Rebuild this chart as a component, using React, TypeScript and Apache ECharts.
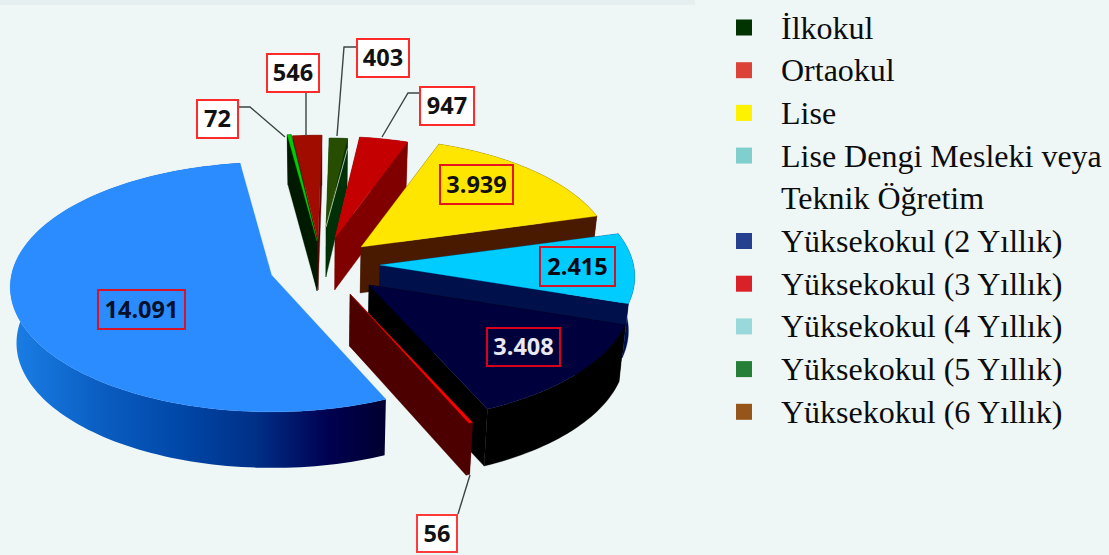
import React, { useEffect, useRef } from "react";
import * as echarts from "echarts";

// ---- data (clockwise from the top of the pie) ----
const categories = ["İlkokul", "Ortaokul", "Lise", "Lise Dengi Mesleki veya Teknik Öğretim", "Yüksekokul (2 Yıllık)", "Yüksekokul (3 Yıllık)", "Yüksekokul (4 Yıllık)", "Yüksekokul (5 Yıllık)", "Yüksekokul (6 Yıllık)"];
const values = [403, 947, 3939, 2415, 3408, 56, 14091, 72, 546];
const legendRows = [["İlkokul"], ["Ortaokul"], ["Lise"], ["Lise Dengi Mesleki veya", "Teknik Öğretim"], ["Yüksekokul (2 Yıllık)"], ["Yüksekokul (3 Yıllık)"], ["Yüksekokul (4 Yıllık)"], ["Yüksekokul (5 Yıllık)"], ["Yüksekokul (6 Yıllık)"]];
const legendColors = ["#003300", "#dc4238", "#fff200", "#80cfcf", "#24408f", "#da2128", "#9ad9db", "#267f36", "#96561a"];

// ---- styling of the slices ----
const topColors = ["#274d00", "#c40000", "#ffe600", "#00ccff", "#00003c", "#ff0000", "#2b8cff", "#00cc00", "#a00c00"];
const wallColors = ["#012f07", "#800000", "#4a1a00", "#00104a", "#000000", "#4d0000", "#000030", "#001a00", "#5a0800"];
// exploded placement of each slice: apex shift, perspective scale, thickness
const explode = [
  { ax: 326, ay: 227, s: 0.79, d: 50 },
  { ax: 335, ay: 238, s: 0.9, d: 52 },
  { ax: 361, ay: 247, s: 0.965, d: 46 },
  { ax: 380, ay: 265, s: 0.975, d: 54 },
  { ax: 369, ay: 285, s: 1.005, d: 57 },
  { ax: 350, ay: 294, s: 1.04, d: 52 },
  { ax: 271.5, ay: 275, s: 1, d: 56 },
  { ax: 317, ay: 241, s: 0.95, d: 50 },
  { ax: 318, ay: 240, s: 0.93, d: 50 },
];
const drawOrder = [8, 7, 0, 1, 2, 3, 4, 5, 6];
const START_ANGLE = 1;
const RX = 260, RY = 123.6, P = 0.097, VX = 322, K = 0.98;

// ---- value labels: box [x, y, w, h] and leader points ----
const labelBoxes = [
  [356, 38, 54, 40], [419, 86, 56, 40], [439, 164, 75, 41], [539, 246, 77, 41], [486, 327, 75, 40],
  [416, 514, 42, 39], [97, 289, 89, 41], [196, 99, 43, 40], [266, 53, 54, 40],
];
const leaders: (number[][] | null)[] = [
  [[356, 47], [344, 47], [337, 136]],
  [[419, 93], [408, 93], [382, 137]],
  null, null, null,
  [[458, 514], [470, 475]],
  null,
  [[239, 107], [250, 107], [285, 137]],
  [[306, 93], [306, 136]],
];
const labelStyle = [
  { fill: "#ffffff", stroke: "#ff2a2a", color: "#111111" },
  { fill: "#ffffff", stroke: "#ff2a2a", color: "#111111" },
  { fill: "transparent", stroke: "#e8141c", color: "#111111" },
  { fill: "transparent", stroke: "#d01428", color: "#0a0a14" },
  { fill: "transparent", stroke: "#d8001c", color: "#e8e8f0" },
  { fill: "#ffffff", stroke: "#ff3a3a", color: "#111111" },
  { fill: "transparent", stroke: "#d8142c", color: "#06102a" },
  { fill: "#ffffff", stroke: "#ff2a2a", color: "#111111" },
  { fill: "#ffffff", stroke: "#ff2a2a", color: "#111111" },
];

const total = values.reduce((a, b) => a + b, 0);
const angleBounds = (i: number) => {
  const before = values.slice(0, i).reduce((a, b) => a + b, 0);
  return [START_ANGLE + (before / total) * 360, START_ANGLE + ((before + values[i]) / total) * 360];
};
const formatValue = (v: number) => String(v).replace(/\B(?=(\d{3})+$)/g, ".");

const project = (i: number, deg: number, r: number) => {
  const e = explode[i];
  const t = (deg * Math.PI) / 180;
  const u = Math.sin(t), v = -Math.cos(t), den = 1 - P * v;
  return [e.ax + (e.s * RX * r * u) / den, e.ay + (e.s * RY * r * v) / den];
};
const lower = (p: number[], d: number) => [VX + (p[0] - VX) * K, p[1] + d];

const blueWall = new echarts.graphic.LinearGradient(11, 0, 385, 0, [
  { offset: 0, color: "#1a7fe6" },
  { offset: 0.25, color: "#0a5cc0" },
  { offset: 0.45, color: "#0048a8" },
  { offset: 0.65, color: "#003088" },
  { offset: 0.85, color: "#000050" },
  { offset: 1, color: "#000030" },
], true as any);

const renderSlice = (params: any, api: any) => {
  const i = drawOrder[params.dataIndex];
  const [a0, a1] = angleBounds(i);
  const d = explode[i].d;
  const n = Math.max(2, Math.ceil((a1 - a0) / 1.5));
  const rim: number[][] = [];
  for (let k = 0; k <= n; k++) rim.push(project(i, a0 + ((a1 - a0) * k) / n, 1));
  const apex = project(i, a0, 0);
  const wallFill: any = i === 6 ? blueWall : wallColors[i];
  const poly = (points: number[][], fill: any) => ({
    type: "polygon", shape: { points }, style: { fill, stroke: fill === blueWall ? "none" : fill, lineWidth: 0.3 },
  });
  const children: any[] = [];
  const first = rim[0], last = rim[rim.length - 1];
  if (i !== 6) {
    children.push(poly([apex, first, lower(first, d), lower(apex, d)], wallColors[i]));
    children.push(poly([apex, last, lower(last, d), lower(apex, d)], wallColors[i]));
  }
  children.push(poly([...rim, ...rim.slice().reverse().map((p) => lower(p, d))], wallFill));
  children.push(poly([apex, ...rim], topColors[i]));
  if (i === 0) {
    children.push({ type: "line", shape: { x1: apex[0], y1: apex[1], x2: last[0], y2: last[1] + 10 }, style: { stroke: "#a8bc98", lineWidth: 1 } });
  }
  return { type: "group", children };
};

const renderLabel = (params: any, api: any) => {
  const i = params.dataIndex;
  const [x, y, w, h] = labelBoxes[i];
  const st = labelStyle[i];
  const children: any[] = [];
  if (leaders[i]) {
    children.push({ type: "polyline", shape: { points: leaders[i] }, style: { stroke: "#3c4444", lineWidth: 1.4, fill: "none" } });
  }
  children.push({ type: "rect", shape: { x: x + 1, y: y + 1, width: w - 2, height: h - 2 }, style: { fill: st.fill, stroke: st.stroke, lineWidth: 2 } });
  children.push({
    type: "text",
    style: { x: x + w / 2, y: y + h / 2 - 1, text: formatValue(api.value(0)), fill: st.color, font: 'bold 23.5px "Open Sans"', align: "center", verticalAlign: "middle" },
  });
  return { type: "group", children };
};

const LEGEND_TOP = 27.5, LEGEND_STEP = 42.7;
const legendGraphics = () => {
  const out: any[] = [];
  let row = 0;
  legendRows.forEach((lines, i) => {
    out.push({ type: "rect", x: 736, y: LEGEND_TOP + row * LEGEND_STEP - 8, shape: { width: 16, height: 16 }, style: { fill: legendColors[i] } });
    lines.forEach((line) => {
      out.push({ type: "text", x: 781, y: LEGEND_TOP + row * LEGEND_STEP, style: { text: line, font: '32px "Liberation Serif"', fill: "#0c0c0c", verticalAlign: "middle", align: "left" } });
      row++;
    });
  });
  return out;
};

export default function App() {
  const ref = useRef<HTMLDivElement>(null);
  useEffect(() => {
    document.body.style.margin = "0";
    const chart = echarts.init(ref.current!, undefined, { renderer: "svg" });
    chart.setOption({
      animation: false,
      backgroundColor: "#eef6f6",
      tooltip: { show: false },
      graphic: [
        { type: "rect", x: 0, y: 0, shape: { width: 695, height: 5 }, style: { fill: "#e6efef" } },
        ...legendGraphics(),
      ],
      series: [
        {
          type: "custom",
          coordinateSystem: "none",
          renderItem: renderSlice,
          silent: true,
          clip: false,
          data: drawOrder.map((i) => ({ name: categories[i], value: [values[i]] })),
        },
        {
          type: "custom",
          coordinateSystem: "none",
          renderItem: renderLabel,
          silent: true,
          z: 5,
          data: values.map((v, i) => ({ name: categories[i], value: [v] })),
        },
      ],
    });
    return () => chart.dispose();
  }, []);
  return <div ref={ref} style={{ position: "fixed", left: 0, top: 0, width: 1109, height: 555 }} />;
}
